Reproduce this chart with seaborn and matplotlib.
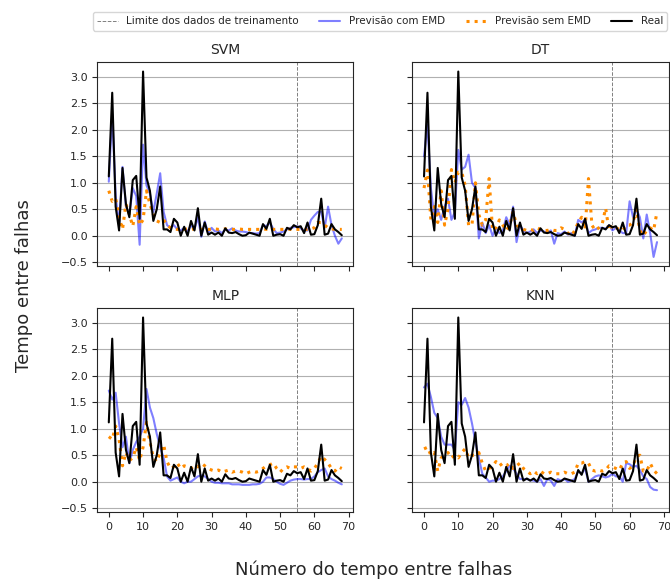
import seaborn as sns
import matplotlib.pyplot as plt
import pandas as pd
import numpy as np

sns.set_style("ticks")

# Time index of each failure interval
t = list(range(69))

# Real series (same for all models)
real = [1.12, 2.70, 0.55, 0.10, 1.28, 0.60, 0.35, 1.05, 1.13, 0.32,
        3.10, 1.10, 0.85, 0.28, 0.50, 0.93, 0.12, 0.12, 0.07, 0.32,
        0.25, 0.00, 0.17, 0.00, 0.28, 0.10, 0.52, 0.00, 0.25, 0.02,
        0.06, 0.02, 0.06, 0.00, 0.14, 0.06, 0.05, 0.07, 0.03, 0.00,
        0.01, 0.06, 0.04, 0.02, 0.00, 0.22, 0.13, 0.32, 0.00, 0.02,
        0.03, 0.00, 0.15, 0.12, 0.20, 0.16, 0.18, 0.05, 0.25, 0.02,
        0.03, 0.20, 0.70, 0.02, 0.04, 0.22, 0.12, 0.07, 0.01]

# Forecasts with EMD
svm_emd = [1.02, 2.30, 0.75, 0.20, 1.30, 0.55, 0.40, 0.90, 0.75, -0.17,
           1.72, 0.95, 0.80, 0.45, 0.80, 1.18, 0.45, 0.20, 0.15, 0.20,
           0.12, 0.10, 0.15, 0.08, 0.20, 0.12, 0.35, -0.02, 0.27, 0.05,
           0.15, 0.08, 0.10, 0.05, 0.12, 0.10, 0.14, 0.10, 0.08, 0.08,
           0.07, 0.05, 0.05, 0.04, 0.05, 0.20, 0.18, 0.25, 0.13, 0.05,
           0.06, 0.08, 0.12, 0.15, 0.16, 0.18, 0.14, 0.10, 0.10, 0.30,
           0.38, 0.45, 0.45, 0.15, 0.55, 0.20, 0.00, -0.15, -0.05]
dt_emd = [1.50, 2.10, 0.90, 0.35, 0.50, 0.30, 0.55, 0.70, 0.30, 0.45,
          1.62, 1.25, 1.30, 1.53, 1.00, 0.90, -0.05, 0.25, 0.05, 0.20,
          0.00, 0.15, 0.05, 0.10, 0.35, 0.20, 0.55, -0.12, 0.20, 0.10,
          0.05, 0.08, 0.12, 0.05, 0.10, 0.08, 0.06, 0.10, -0.15, 0.05,
          0.03, 0.08, 0.02, 0.05, 0.00, 0.30, 0.25, 0.30, 0.05, 0.10,
          0.12, 0.15, 0.15, 0.13, 0.20, 0.10, 0.15, 0.10, 0.05, 0.05,
          0.65, 0.35, 0.50, 0.35, -0.05, 0.40, 0.05, -0.40, -0.12]
mlp_emd = [1.72, 1.55, 1.68, 1.10, 0.65, 0.85, 0.35, 0.60, 0.75, 0.85,
           1.00, 1.75, 1.40, 1.20, 0.90, 0.65, 0.45, 0.10, 0.02, 0.05,
           0.08, 0.00, -0.03, 0.00, 0.00, 0.05, 0.10, 0.12, 0.10, 0.05,
           0.00, -0.02, -0.02, -0.03, -0.03, -0.03, -0.05, -0.05, -0.05, -0.06,
           -0.06, -0.06, -0.05, -0.05, -0.04, 0.00, 0.08, 0.08, 0.05, 0.00,
           -0.04, -0.06, -0.02, 0.02, 0.04, 0.05, 0.05, 0.04, 0.05, 0.05,
           0.10, 0.18, 0.22, 0.25, 0.10, 0.05, 0.02, -0.02, -0.05]
knn_emd = [1.78, 1.85, 1.60, 1.30, 1.20, 0.85, 0.70, 0.70, 0.70, 0.60,
           1.50, 1.45, 1.58, 1.40, 1.10, 0.75, 0.45, 0.15, 0.08, 0.00,
           0.02, 0.02, 0.05, 0.10, 0.20, 0.30, 0.25, 0.15, 0.05, 0.05,
           0.05, 0.03, 0.02, 0.00, 0.05, -0.08, 0.05, 0.02, -0.08, 0.05,
           0.02, 0.05, 0.00, 0.02, 0.05, 0.20, 0.15, 0.25, 0.00, 0.05,
           0.10, 0.12, 0.10, 0.08, 0.10, 0.15, 0.10, 0.10, 0.00, 0.35,
           0.33, 0.28, 0.30, 0.22, 0.10, 0.05, -0.10, -0.15, -0.16]

# Forecasts without EMD
svm_raw = [0.85, 0.65, 0.70, 0.35, 0.12, 0.60, 0.40, 0.18, 0.55, 0.20,
           0.30, 0.85, 0.60, 0.40, 0.28, 0.25, 0.30, 0.20, 0.15, 0.13,
           0.12, 0.13, 0.12, 0.13, 0.12, 0.13, 0.14, 0.12, 0.13, 0.12,
           0.12, 0.13, 0.12, 0.12, 0.13, 0.12, 0.12, 0.12, 0.13, 0.12,
           0.12, 0.12, 0.12, 0.12, 0.12, 0.13, 0.12, 0.13, 0.12, 0.12,
           0.12, 0.12, 0.13, 0.12, 0.12, 0.12, 0.12, 0.12, 0.12, 0.13,
           0.15, 0.25, 0.25, 0.20, 0.15, 0.13, 0.12, 0.12, 0.12]
dt_raw = [0.90, 1.24, 0.30, 0.55, 0.25, 0.85, 0.20, 0.50, 1.25, 1.00,
          1.20, 1.20, 0.95, 0.20, 0.20, 1.00, 0.40, 0.20, 0.30, 1.08,
          0.10, 0.15, 0.30, 0.20, 0.10, 0.20, 0.45, 0.20, 0.15, 0.12,
          0.10, 0.12, 0.10, 0.15, 0.12, 0.10, 0.10, 0.12, 0.10, 0.10,
          0.15, 0.12, 0.05, 0.00, 0.10, 0.25, 0.35, 0.12, 1.08, 0.20,
          0.10, 0.15, 0.22, 0.52, 0.10, 0.20, 0.15, 0.12, 0.10, 0.20,
          0.20, 0.25, 0.50, 0.10, 0.00, 0.10, 0.15, 0.10, 0.45]
mlp_raw = [0.85, 0.80, 1.05, 0.80, 0.30, 0.55, 0.40, 0.45, 0.65, 0.40,
           0.65, 1.12, 0.75, 0.45, 0.38, 0.55, 0.70, 0.38, 0.25, 0.28,
           0.35, 0.25, 0.30, 0.28, 0.25, 0.30, 0.28, 0.35, 0.30, 0.25,
           0.22, 0.20, 0.22, 0.18, 0.20, 0.22, 0.18, 0.20, 0.20, 0.18,
           0.15, 0.18, 0.20, 0.18, 0.20, 0.25, 0.30, 0.32, 0.35, 0.25,
           0.18, 0.25, 0.28, 0.25, 0.28, 0.28, 0.25, 0.28, 0.25, 0.20,
           0.25, 0.35, 0.48, 0.42, 0.35, 0.25, 0.20, 0.28, 0.25]
knn_raw = [0.62, 0.65, 0.50, 0.55, 0.20, 0.45, 0.50, 0.55, 0.45, 0.50,
           0.45, 0.55, 0.62, 0.45, 0.50, 0.50, 0.55, 0.35, 0.20, 0.25,
           0.30, 0.38, 0.30, 0.35, 0.30, 0.35, 0.25, 0.30, 0.35, 0.25,
           0.20, 0.15, 0.20, 0.15, 0.20, 0.15, 0.15, 0.18, 0.15, 0.15,
           0.15, 0.18, 0.15, 0.15, 0.18, 0.35, 0.35, 0.38, 0.35, 0.22,
           0.20, 0.22, 0.20, 0.22, 0.30, 0.28, 0.25, 0.22, 0.35, 0.38,
           0.25, 0.30, 0.48, 0.50, 0.20, 0.20, 0.35, 0.22, 0.15]

models = ["SVM", "DT", "MLP", "KNN"]
emd = {"SVM": svm_emd, "DT": dt_emd, "MLP": mlp_emd, "KNN": knn_emd}
raw = {"SVM": svm_raw, "DT": dt_raw, "MLP": mlp_raw, "KNN": knn_raw}
train_limit = 55

fig, axes = plt.subplots(2, 2, figsize=(6.7, 5.82), dpi=100,
                         sharex=True, sharey=True)
fig.subplots_adjust(left=0.145, right=0.998, top=0.893, bottom=0.12,
                    wspace=0.23, hspace=0.206)

for ax, name in zip(axes.flat, models):
    ax.axvline(train_limit, color="gray", linestyle="--", linewidth=0.7,
               label="Limite dos dados de treinamento")
    sns.lineplot(x=t, y=emd[name], ax=ax, color="blue", alpha=0.5,
                 linewidth=1.5, label="Previsão com EMD", legend=False)
    sns.lineplot(x=t, y=raw[name], ax=ax, color="darkorange",
                 linestyle=":", linewidth=2.2, label="Previsão sem EMD",
                 legend=False)
    sns.lineplot(x=t, y=real, ax=ax, color="black", linewidth=1.5,
                 label="Real", legend=False)
    ax.set_title(name, fontsize=10)
    ax.grid(axis="y", color="#b0b0b0", linewidth=0.8)
    ax.tick_params(labelsize=8)
    ax.set_xticks(range(0, 71, 10))
    ax.set_yticks(np.arange(-0.5, 3.01, 0.5))

handles, labels = axes[0, 0].get_legend_handles_labels()
fig.legend(handles, labels, loc="upper center", ncol=4, fontsize=7.5,
           bbox_to_anchor=(0.567, 0.988), frameon=True)

fig.supylabel("Tempo entre falhas", x=0.022, y=0.51, fontsize=13)
fig.supxlabel("Número do tempo entre falhas", x=0.557, y=0.005, fontsize=13)

plt.savefig("out.png", dpi=100)
